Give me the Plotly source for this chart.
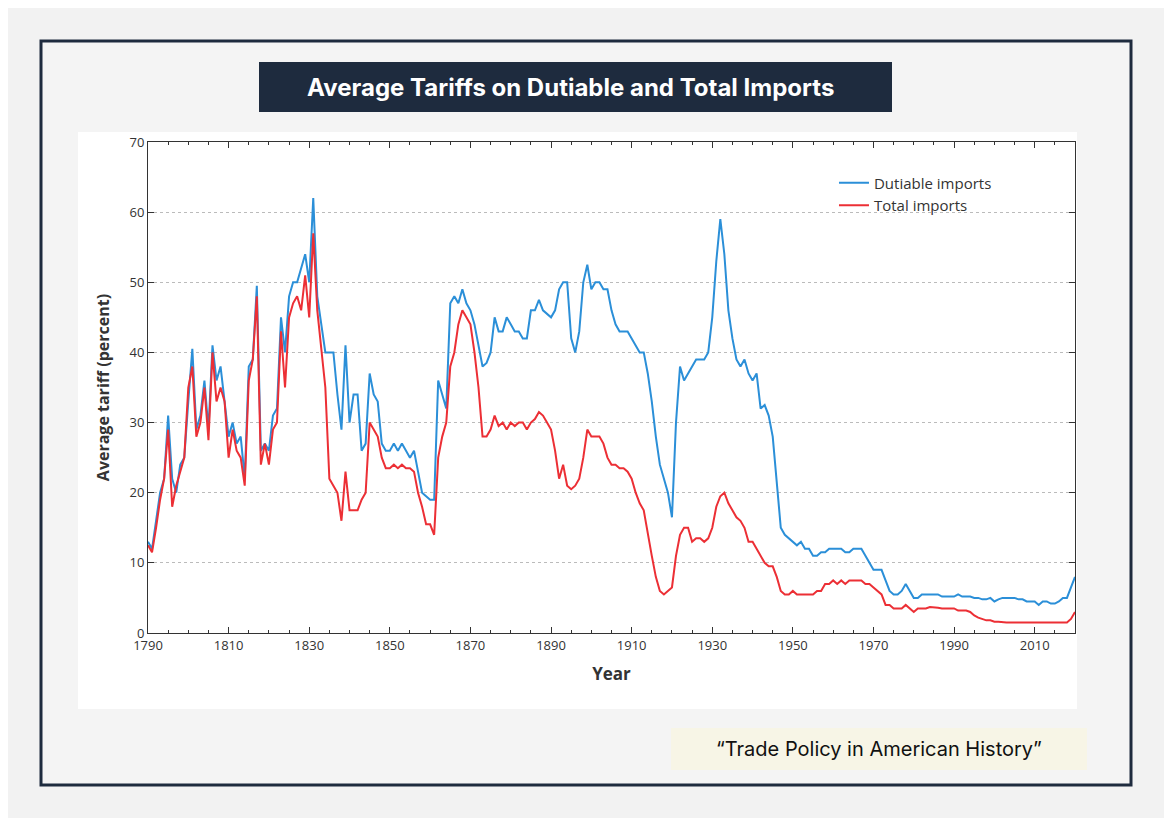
import plotly.graph_objects as go

years = list(range(1790, 2021))

dutiable = [
    13, 12, 16, 20, 22, 31, 22, 20, 24, 25,
    33, 40.5, 29, 31, 36, 29, 41, 36, 38, 33,
    28, 30, 27, 28, 22, 38, 39, 49.5, 26, 27,
    26, 31, 32, 45, 40, 48, 50, 50, 52, 54,
    50, 62, 48, 44, 40, 40, 40, 34, 29, 41,
    30, 34, 34, 26, 27, 37, 34, 33, 27, 26,
    26, 27, 26, 27, 26, 25, 26, 23, 20, 19.5,
    19, 19, 36, 34, 32, 47, 48, 47, 49, 47,
    46, 44, 41, 38, 38.5, 40, 45, 43, 43, 45,
    44, 43, 43, 42, 42, 46, 46, 47.5, 46, 45.5,
    45, 46, 49, 50, 50, 42, 40, 43, 50, 52.5,
    49, 50, 50, 49, 49, 46, 44, 43, 43, 43,
    42, 41, 40, 40, 37, 33, 28, 24, 22, 20,
    16.5, 30, 38, 36, 37, 38, 39, 39, 39, 40,
    45, 53, 59, 54, 46, 42, 39, 38, 39, 37,
    36, 37, 32, 32.5, 31, 28, 22, 15, 14, 13.5,
    13, 12.5, 13, 12, 12, 11, 11, 11.5, 11.5, 12,
    12, 12, 12, 11.5, 11.5, 12, 12, 12, 11, 10,
    9, 9, 9, 7.5, 6, 5.5, 5.5, 6, 7, 6,
    5, 5, 5.5, 5.5, 5.5, 5.5, 5.5, 5.2, 5.2, 5.2,
    5.2, 5.5, 5.2, 5.2, 5.2, 5, 5, 4.8, 4.8, 5,
    4.5, 4.8, 5, 5, 5, 5, 4.8, 4.8, 4.5, 4.5,
    4.5, 4, 4.5, 4.5, 4.2, 4.2, 4.5, 5, 5, 6.5,
    8,
]

total = [
    12.5, 11.5, 15, 19, 22, 29, 18, 21, 23, 25,
    35, 38, 28, 30, 35, 27.5, 40, 33, 35, 33,
    25, 29, 26, 25, 21, 36, 39, 48, 24, 27,
    24, 29, 30, 43, 35, 45, 47, 48, 46, 51,
    45, 57, 46, 40, 35, 22, 21, 20, 16, 23,
    17.5, 17.5, 17.5, 19, 20, 30, 29, 28, 25, 23.5,
    23.5, 24, 23.5, 24, 23.5, 23.5, 23, 20, 18, 15.5,
    15.5, 14, 25, 28, 30, 38, 40, 44, 46, 45,
    44, 40, 35, 28, 28, 29, 31, 29.5, 30, 29,
    30, 29.5, 30, 30, 29, 30, 30.5, 31.5, 31, 30,
    29, 26, 22, 24, 21, 20.5, 21, 22, 25, 29,
    28, 28, 28, 27, 25, 24, 24, 23.5, 23.5, 23,
    22, 20, 18.5, 17.5, 14, 11, 8, 6, 5.5, 6,
    6.5, 11, 14, 15, 15, 13, 13.5, 13.5, 13, 13.5,
    15, 18, 19.5, 20, 18.5, 17.5, 16.5, 16, 15, 13,
    13, 12, 11, 10, 9.5, 9.5, 8, 6, 5.5, 5.5,
    6, 5.5, 5.5, 5.5, 5.5, 5.5, 6, 6, 7, 7,
    7.5, 7, 7.5, 7, 7.5, 7.5, 7.5, 7.5, 7, 7,
    6.5, 6, 5.5, 4, 4, 3.5, 3.5, 3.5, 4, 3.5,
    3, 3.5, 3.5, 3.5, 3.7, 3.7, 3.6, 3.5, 3.5, 3.5,
    3.5, 3.2, 3.2, 3.2, 3, 2.5, 2.2, 2, 1.8, 1.8,
    1.6, 1.6, 1.5, 1.5, 1.5, 1.5, 1.4, 1.4, 1.4, 1.4,
    1.4, 1.4, 1.4, 1.4, 1.4, 1.4, 1.4, 1.5, 1.5, 2,
    3,
]

# the page adds an 8px body margin, so work in screen pixels and shift
OFF = 8
W, H = 1172 - 2 * OFF, 826 - 2 * OFF
L, R, T, B = 148, 1075, 142, 633


def px(x):
    return (x - L) / (R - L)


def py(y):
    return (B - y) / (B - T)


fig = go.Figure()
fig.add_trace(go.Scatter(x=years, y=dutiable, name="Dutiable imports", mode="lines",
                         line=dict(color="#2b8fd8", width=2)))
fig.add_trace(go.Scatter(x=years, y=total, name="Total imports", mode="lines",
                         line=dict(color="#ec2f35", width=2)))

shapes = [
    # card
    dict(type="rect", xref="paper", yref="paper", x0=px(41), x1=px(1131), y0=py(785), y1=py(41),
         line=dict(color="#1e2b3e", width=3), fillcolor="#f4f4f4", layer="below"),
    # white chart image
    dict(type="rect", xref="paper", yref="paper", x0=px(78), x1=px(1077), y0=py(709), y1=py(132),
         line=dict(width=0), fillcolor="white", layer="below"),
    # title box
    dict(type="rect", xref="paper", yref="paper", x0=px(259), x1=px(892), y0=py(112), y1=py(62),
         line=dict(width=0), fillcolor="#1e2b3e", layer="below"),
    # caption box
    dict(type="rect", xref="paper", yref="paper", x0=px(671), x1=px(1087), y0=py(770), y1=py(728),
         line=dict(width=0), fillcolor="#f7f5e6", layer="below"),
]

annotations = [
    dict(text="<b>Average Tariffs on Dutiable and Total Imports</b>", xref="paper", yref="paper",
         x=px(570), y=py(87), xanchor="center", yanchor="middle", showarrow=False,
         font=dict(color="white", size=24, family="Inter")),
    dict(text="\u201cTrade Policy in American History\u201d", xref="paper", yref="paper",
         x=px(879), y=py(749), xanchor="center", yanchor="middle", showarrow=False,
         font=dict(color="#111", size=20, family="Inter")),
]

axis_common = dict(showline=True, linecolor="#333", linewidth=1, mirror="ticks",
                   ticks="inside", ticklen=6, tickcolor="#333",
                   tickfont=dict(size=13, color="#333", family="Open Sans"))

fig.update_layout(
    width=W, height=H,
    margin=dict(l=L - OFF, r=W + OFF - R, t=T - OFF, b=H + OFF - B),
    paper_bgcolor="#f2f2f2", plot_bgcolor="rgba(0,0,0,0)",
    shapes=shapes, annotations=annotations,
    font=dict(family="Open Sans", color="#333"),
    legend=dict(x=0.74, y=0.95, xanchor="left", yanchor="top", bgcolor="rgba(0,0,0,0)",
                font=dict(size=15, color="#333")),
    xaxis=dict(range=[1790, 2020], tick0=1790, dtick=20, showgrid=False,
               minor=dict(dtick=5, ticks="inside", ticklen=3, tickcolor="#333"),
               title=dict(text="<b>Year</b>", font=dict(size=17)), **axis_common),
    yaxis=dict(range=[0, 70], dtick=10, showgrid=True, gridcolor="#bbb", griddash="dot",
               zeroline=False,
               title=dict(text="<b>Average tariff (percent)</b>", font=dict(size=16)), **axis_common),
)

fig.write_html("out.html")
